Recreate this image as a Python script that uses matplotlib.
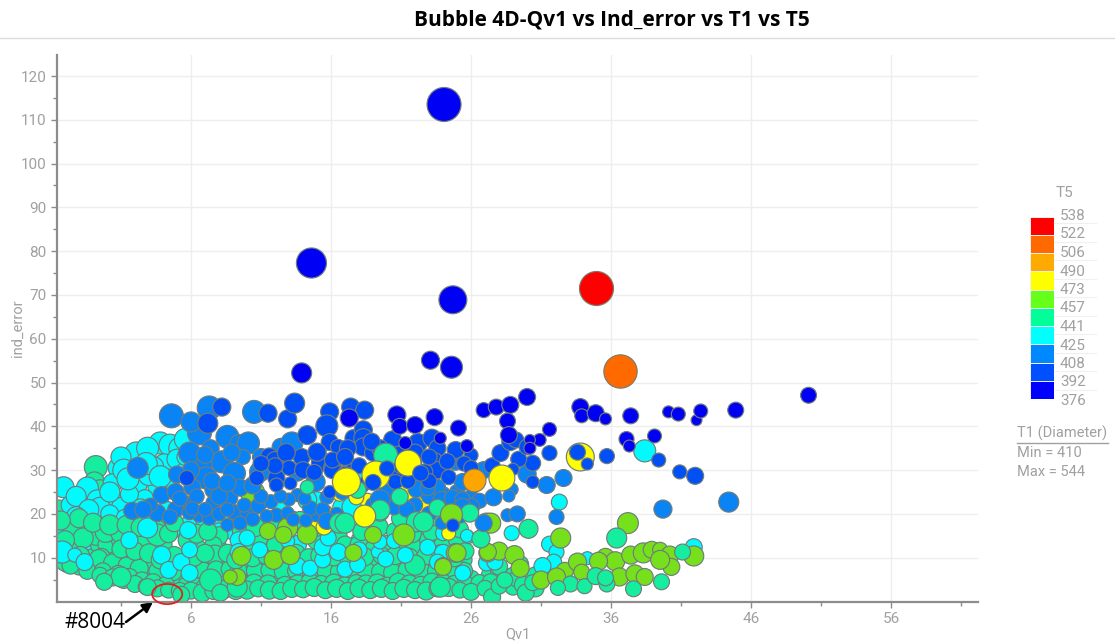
import numpy as np
import matplotlib
matplotlib.use('Agg')
import matplotlib.pyplot as plt
from matplotlib.colors import ListedColormap, BoundaryNorm
from matplotlib.patches import Ellipse

# T5 scale
t5_edges = [376, 392, 408, 425, 441, 457, 473, 490, 506, 522, 538]
t5_colors = ['#0000ff', '#0050ff', '#0088ff', '#00ffff', '#00ff99',
             '#66ff1a', '#ffff00', '#ffaa00', '#ff6a00', '#ff0000']
# the bubbles come out a little duller than the legend in the reference
bubble_colors = ['#0000f5', '#0050f5', '#0a84f5', '#00fbff', '#14ee9e',
                 '#76e01c', '#ffff00', '#ffa500', '#ff6a00', '#ff0000']
t1_min = 410
t1_max = 544

# (Qv1, ind_error, T1), one list per T5 band
teal_back = [(-0.8, 30.7, 482), (-0.9, 27.3, 466), (-0.5, 25.5, 466), (-3.4, 21, 460), (2.0, 19, 455), (0.8, 18, 455)]
cyan_back = [
    (3.8, 36.2, 477), (2.1, 33.7, 488), (2.9, 35, 477), (4.5, 35.7, 477), (5.2, 35, 477), (4.1, 31.2, 477),
    (3.3, 30.7, 471), (0.8, 30.5, 466), (2.1, 27, 477), (-3.1, 26.1, 471), (0.4, 27, 460), (4.4, 27.7, 477),
    (3.6, 26.2, 460), (-1.4, 25.9, 477), (-0.7, 23.2, 466), (-2.6, 22, 460), (0.4, 22.7, 471), (1.0, 21.6, 460),
    (2.7, 23.6, 449), (-1.7, 18.6, 460), (-3.2, 17, 477), (4.3, 20.9, 449), (1.6, 24.5, 455), (2.9, 19, 460),
    (-2.2, 24, 466), (-0.2, 19.5, 460), (5.8, 17.5, 449), (6.8, 16.5, 443), (9.0, 16, 449), (10.5, 14.5, 449),
    (8.2, 18, 449), (13.6, 13, 455), (15.0, 23, 455), (16.8, 21.5, 460), (17.5, 21.6, 466), (17.9, 30, 455),
    (14.3, 23.2, 460), (12.5, 21, 449), (5.6, 37, 477), (1.0, 33, 466), (1.2, 30, 477), (3.0, 29, 477),
    (2.8, 31.5, 477), (5.0, 32.5, 466), (5.6, 30, 449), (-0.5, 21.5, 466), (1.5, 28, 477), (0.2, 25, 466),
    (-1.3, 21, 466), (0.2, 20, 455), (1.3, 19, 455), (2.2, 18.5, 449), (3.8, 19, 449), (4.8, 16.5, 449),
    (-3.2, 14, 477), (-2.3, 14, 449), (-1.0, 12, 449), (-2.8, 8.5, 449), (2.4, 21.5, 449), (3.8, 28.5, 477),
    (-2.2, 19.5, 460), (8.0, 16, 449), (7.0, 18, 449), (11.3, 17.5, 449), (13.2, 19, 438), (9.5, 18.7, 438),
    (10.6, 15, 438), (16.0, 16, 443), (18.0, 14, 443), (20.0, 12, 443), (21.0, 18, 443), (5.6, 33, 449),
]
teal_low = [
    (-3.0, 9, 455), (-2.0, 8, 449), (-1.0, 8.5, 455), (0.0, 7.5, 449), (1.0, 7, 455), (2.0, 6.5, 449),
    (3.0, 6, 455), (4.0, 5, 449), (5.0, 5.5, 455), (6.5, 4.5, 460), (7.2, 5.5, 455), (8.0, 5.5, 460),
    (9.5, 5, 455), (10.2, 5.5, 449), (11.0, 5.8, 455), (12.0, 6, 449), (13.0, 5, 455), (14.0, 5.5, 460),
    (15.0, 5, 449), (16.0, 5.5, 455), (17.0, 4.8, 449), (18.0, 5.5, 455), (19.0, 5.5, 449), (20.0, 5, 455),
    (21.0, 6, 460), (22.0, 5, 449), (23.0, 6, 455), (24.0, 5.5, 449), (25.0, 5, 455), (26.0, 5.2, 449),
    (27.3, 6, 443), (28.0, 6.5, 449), (29.0, 6, 443), (-2.5, 12, 460), (-1.0, 10, 455), (-0.5, 13, 460),
    (0.5, 11, 455), (1.5, 10, 460), (2.5, 9, 455), (3.2, 8, 449), (5.0, 8, 455), (6.0, 8.5, 460),
    (7.0, 9, 455), (8.0, 9, 460), (10.0, 8, 455), (11.0, 8, 449), (12.5, 8.5, 455), (14.0, 8, 460),
    (16.0, 9, 455), (18.0, 9, 460), (19.0, 9, 449), (20.5, 8.5, 455), (22.0, 9, 460), (23.0, 9, 455),
    (24.5, 8.5, 449), (25.5, 9.5, 443), (-1.5, 16.5, 466), (-0.8, 15, 460), (0.0, 13, 455), (1.0, 14, 460),
    (1.8, 15, 455), (2.5, 14, 460), (3.5, 16.5, 466), (4.0, 13, 455), (5.8, 14.5, 460), (6.5, 12, 455),
    (7.8, 13, 460), (8.0, 15, 455), (9.8, 12.5, 460), (11.0, 14, 455), (12.0, 12.5, 460), (13.5, 11, 455),
    (15.0, 14, 460), (16.5, 15, 455), (17.0, 13, 449), (18.0, 13, 455), (19.0, 12, 449), (20.0, 13, 455),
    (21.0, 12.5, 449), (22.0, 13, 455), (23.0, 14, 460), (24.0, 13, 455), (25.0, 14, 449),
    (-2.4, 16.8, 477), (-1.7, 14.5, 466), (-0.1, 15.9, 471), (-0.4, 10.2, 449),
    (1.0, 15.6, 466), (2.2, 10.6, 466), (3.6, 15.2, 477), (5.8, 14, 466), (7.6, 12.9, 449), (7.7, 10.6, 466),
]
teal_fill = [
    (-3.3, 11, 460), (-1.9, 10.5, 455), (-0.6, 9.8, 455), (0.4, 8.8, 455), (1.4, 8.2, 449), (2.3, 7.6, 455),
    (3.6, 7, 449), (4.7, 6.8, 455), (6.0, 6.5, 455), (6.9, 7, 449), (7.8, 7.2, 455), (8.8, 7.4, 455),
    (9.4, 7, 449), (10.6, 7, 455), (11.6, 7.2, 449), (12.6, 6.8, 455), (13.5, 7, 449), (14.6, 6.6, 455),
    (15.6, 7, 449), (16.6, 6.8, 455), (17.6, 6.8, 449), (18.5, 7, 455), (19.5, 6.8, 449), (20.4, 6.6, 455),
    (21.4, 7.2, 449), (22.5, 6.8, 455), (23.5, 7, 449), (24.5, 6.8, 455), (25.5, 7, 449),
    (1.0, 12, 455), (2.0, 11.5, 455), (3.0, 11, 460), (3.8, 9.5, 455), (4.8, 10.5, 455), (6.2, 10.2, 460),
    (7.0, 11, 455), (8.6, 11, 455), (9.2, 9.5, 455), (10.4, 10, 455), (11.4, 10.5, 455), (12.6, 11, 449),
    (14.4, 10, 455), (15.2, 10.5, 455), (16.2, 10.2, 455), (17.2, 10, 449), (18.4, 10.2, 455), (19.6, 10.5, 449),
    (20.6, 10.5, 455), (21.6, 10.2, 449), (22.8, 10.5, 455), (23.8, 11, 449), (24.8, 10, 455), (25.6, 11.5, 449),
    (-3.0, 14, 460), (-2.0, 19, 460), (-1.0, 18, 460), (0.2, 17.5, 466), (1.4, 17.5, 460), (2.4, 17, 460),
    (4.4, 15.5, 455), (4.8, 18, 455), (6.4, 15.5, 460), (7.2, 16, 455), (9.6, 16, 455), (10.6, 17, 460),
    (12.0, 18, 455), (13.8, 18.5, 455), (15.0, 17, 455), (16.4, 19, 455), (18.2, 16, 455), (19.4, 17, 460),
    (20.6, 16, 455), (21.8, 15.5, 455), (23.2, 16, 455), (24.2, 17, 455), (25.2, 16.5, 449), (21.0, 19, 460),
    (23.4, 19.5, 460), (-3.3, 18.5, 460), (28.0, 8, 449), (29.5, 8.5, 449), (30.6, 6, 449),
]
teal_bottom = [
    (-2.6, 8.2, 449), (-1.4, 7, 449), (-0.3, 6.9, 449), (0.8, 6.3, 449), (1.6, 5.6, 449), (2.5, 4.8, 449),
    (3.3, 4.4, 449), (4.2, 3.8, 449), (5.7, 3.6, 455), (6.3, 3.4, 455), (7.0, 3.2, 455), (8.9, 4, 455),
    (9.8, 3.8, 449), (10.5, 4.2, 455), (11.5, 4, 455), (12.7, 3.8, 449), (13.6, 4, 455), (14.5, 4.4, 455),
    (15.3, 4, 449), (16.2, 4.2, 455), (17.0, 3.6, 455), (17.8, 4.2, 449), (18.5, 4, 455), (19.3, 4.2, 455),
    (20.0, 3.6, 449), (20.8, 4.4, 455), (21.6, 4, 455), (22.4, 3.8, 449), (23.2, 4.4, 455), (24.0, 4.2, 455),
    (24.8, 4, 449), (25.6, 3.8, 455), (26.6, 4.2, 449), (27.4, 4.4, 449), (29.0, 3.4, 449), (30.6, 3, 449),
    (29.3, 5.2, 449),
    (-0.5, 6, 443), (0.4, 5.5, 449), (1.2, 4.8, 443), (2.0, 4, 449), (2.8, 3.4, 443), (3.6, 3, 449),
    (4.4, 2.6, 443), (5.2, 2.4, 449), (6.0, 2.5, 449), (6.8, 2, 455), (7.6, 2.4, 449), (8.4, 2.8, 455),
    (9.2, 2.4, 449), (10.0, 2.6, 455), (10.8, 3, 449), (11.6, 2.6, 455), (12.4, 2.4, 449), (13.2, 3, 455),
    (14.0, 2.8, 449), (14.8, 3.2, 455), (15.6, 2.6, 449), (16.4, 3, 455), (17.2, 2.4, 449), (18.0, 3, 455),
    (18.8, 2.6, 449), (19.6, 3, 455), (20.4, 2.4, 449), (21.2, 3, 455), (22.0, 2.6, 449), (22.8, 2.4, 455),
    (23.6, 3, 449), (24.4, 3.2, 455), (25.2, 2.6, 443), (26.0, 2.2, 449), (27.0, 3, 443), (27.5, 1, 449),
    (28.0, 3.5, 443), (28.4, 4.9, 443), (29.7, 3.8, 449), (29.9, 2, 449), (30.4, 4.3, 443),
    (1.0, 5.6, 466), (-0.2, 4.5, 449), (2.9, 3.3, 449), (7.4, 4.9, 477), (8.1, 2, 449), (9.3, 3.3, 466),
    (5.3, 1.5, 449), (23.8, 3.3, 466), (22.0, 8.3, 466), (12.0, 12.9, 449),
]
cyan_front = [
    (2.9, 16.8, 466), (1.6, 14, 449), (-3.2, 11.3, 477), (-2.3, 10.6, 432), (-1.6, 9, 449), (3.9, 10.6, 455),
    (4.4, 7.2, 449), (5.3, 9, 449), (5.9, 6.5, 449), (5.9, 11.8, 443), (5.8, 16.3, 449), (9.4, 14, 449),
    (9.4, 11.3, 449), (10.9, 11.8, 443), (12.9, 13.8, 432), (13.6, 8.1, 449), (14.5, 7.6, 443), (15.4, 9.5, 443),
    (15.4, 12.4, 449), (16.5, 11.3, 449), (17.0, 7.4, 443), (17.9, 8.4, 443), (18.0, 11.8, 443), (19.3, 11.3, 421),
    (19.9, 9.7, 443), (21.3, 10.6, 443), (19.5, 13.6, 432), (22.9, 12.4, 443), (24.0, 11.1, 449), (23.6, 9, 443),
    (24.0, 15.6, 438), (20.5, 13.8, 438), (15.8, 14.5, 443), (10.0, 14.5, 443), (25.8, 14.7, 426), (25.4, 6.5, 443),
    (27.1, 8.8, 443), (27.7, 9, 443), (31.6, 13.1, 443), (32.1, 11.3, 438), (31.9, 9, 443), (31.1, 8.1, 449),
    (34.3, 9.9, 426), (41.9, 12.4, 449), (28.9, 15.6, 438), (25.7, 15, 426), (32.3, 22.7, 443), (38.4, 34.4, 477),
]
yellow_low = [(14.6, 16.8, 449), (15.5, 17, 443), (21.4, 25, 449), (24.4, 15.6, 432), (18.6, 23, 438), (19.6, 24, 432),
              (22.5, 22, 438), (16.6, 24.5, 432), (17.8, 23.8, 438)]
green_all = [
    (37.2, 17.9, 471), (32.4, 14.5, 466), (27.1, 17.9, 466), (24.6, 19.5, 466), (21.2, 15.2, 466), (19.0, 15.2, 449),
    (24.9, 11.1, 460), (24.0, 8.1, 449), (27.2, 11.1, 455), (28.0, 11.5, 455), (29.1, 10.6, 460), (29.5, 7.6, 455),
    (32.7, 7, 449), (33.6, 9, 455), (35.6, 10.2, 449), (36.3, 9.2, 460), (37.4, 10.6, 455), (38.3, 11.1, 466),
    (38.9, 11.8, 449), (39.5, 11.8, 438), (40.2, 10.6, 455), (40.3, 7.9, 449), (33.9, 6.7, 443), (35.1, 9.2, 455),
    (39.5, 9.5, 460), (31.0, 4.9, 455), (32.1, 5.6, 455), (36.6, 5.6, 455), (37.7, 6.3, 455), (38.4, 5.6, 449),
    (41.9, 10.4, 466), (9.6, 10.4, 460), (11.9, 9.5, 460), (11.5, 16.1, 449), (13.1, 10.6, 460), (12.9, 16.8, 466),
    (14.3, 15.4, 466), (12.6, 15.2, 449), (9.3, 5.6, 449), (8.8, 5.6, 432), (15.6, 20.4, 432), (17.6, 11.1, 449),
    (10.4, 24.8, 488), (24.0, 7.9, 449), (25.0, 11.1, 455), (27.4, 17.9, 466), (27.2, 11.3, 449),
]
teal_mid = [
    (36.4, 14.5, 466), (39.6, 4.5, 443), (37.6, 2.9, 443), (41.1, 11.3, 443), (33.1, 4, 443), (32.2, 3.1, 438),
    (34.1, 3.5, 438), (34.9, 5.8, 449), (35.7, 4, 443), (35.6, 5.4, 443), (30.1, 16.6, 460), (26.7, 14.3, 455),
]
blue_408 = [
    (2.2, 30.5, 471), (4.6, 42.4, 488), (7.3, 44.2, 488), (6.6, 38.5, 488), (6.0, 41, 466), (8.6, 37.6, 482),
    (9.4, 36.2, 449), (10.1, 36.2, 477), (10.5, 43.3, 482), (5.9, 33.9, 477), (7.4, 35, 449), (8.2, 31.9, 477),
    (9.1, 29.3, 477), (6.9, 31.2, 449), (7.1, 28.2, 477), (6.1, 26.1, 449), (7.6, 25.5, 449), (5.4, 22.5, 449),
    (3.9, 24.3, 449), (4.9, 25, 449), (1.8, 20.7, 449), (3.6, 20.2, 449), (3.1, 22, 432), (6.6, 19.7, 432),
    (7.6, 22.5, 438), (8.8, 23.6, 438), (9.1, 20.4, 438), (10.0, 20.2, 432), (8.6, 17.5, 426), (9.5, 17.9, 432),
    (12.1, 19.7, 432), (12.9, 20.2, 426), (14.9, 19.7, 426), (15.8, 18.6, 426), (10.9, 29.6, 466), (12.4, 35.3, 449),
    (13.2, 36.2, 477), (13.6, 29.3, 443), (14.9, 27.3, 449), (13.6, 24.3, 426), (4.9, 21, 443), (5.9, 20.4, 438),
    (7.3, 19, 432), (10.8, 21.8, 438), (11.7, 22.8, 432), (13.0, 23.3, 426), (14.5, 21.3, 438), (15.7, 23.8, 432),
    (2.6, 21, 449), (4.5, 19.3, 438), (5.2, 23.5, 438), (6.4, 24, 438), (6.1, 21.2, 432), (7.0, 21, 432),
    (8.0, 20, 432), (8.6, 21, 432), (9.8, 22, 432), (10.4, 18.8, 432), (11.4, 19.5, 426), (11.0, 24, 432),
    (12.4, 24, 426), (13.3, 18.7, 426), (14.2, 18.5, 426), (14.1, 23.5, 426), (15.4, 21, 432), (16.4, 20, 426),
    (8.0, 24, 449), (9.5, 26, 449), (10.4, 26.5, 449), (7.5, 27.5, 449), (8.6, 27, 449), (6.0, 30, 449),
    (5.0, 29, 449), (9.7, 33, 438), (8.9, 34, 449), (7.0, 33.5, 449), (11.0, 33, 449), (16.8, 25, 438),
    (22.0, 22, 438), (22.5, 27, 438), (23.0, 24, 438), (24.0, 24.5, 438), (25.0, 25, 438), (26.0, 24, 432),
    (25.2, 19.5, 432), (23.0, 20, 438), (20.5, 21.5, 438), (19.0, 22, 438), (26.6, 23, 438),
    (28.9, 25.6, 426), (31.4, 26.6, 449), (32.6, 28.2, 449), (30.0, 29.1, 455), (27.6, 23.8, 449), (28.7, 24.1, 421),
    (28.6, 19.7, 426), (29.3, 20, 443), (32.1, 19.3, 438), (39.7, 21.1, 455), (44.4, 22.7, 466), (26.9, 30, 449),
    (26.9, 17.9, 449), (24.9, 31.8, 443), (22.1, 25.7, 449), (23.6, 26.1, 443), (22.9, 25.9, 438), (20.0, 24.8, 449),
    (19.5, 23.2, 466), (21.4, 21.1, 443), (23.9, 23.2, 449), (24.7, 23.6, 449), (25.4, 23.2, 443), (26.0, 21.6, 449),
    (25.4, 21.6, 449), (15.7, 18.4, 449), (23.9, 17.9, 426), (25.4, 27.3, 449), (14.9, 27.3, 460),
]
blue_392 = [
    (8.2, 44.4, 455), (11.5, 43, 455), (7.2, 40.7, 466), (12.9, 41.7, 455), (13.4, 45.3, 466), (15.9, 43.3, 455),
    (17.4, 44.4, 455), (15.7, 40.1, 477), (14.3, 38, 460), (15.9, 36.4, 449), (16.5, 35.3, 438), (17.6, 37.3, 449),
    (11.6, 33, 455), (12.0, 32.3, 449), (13.9, 33, 449), (15.0, 33.9, 455), (15.2, 31.6, 449), (16.1, 30.5, 455),
    (10.7, 28.2, 438), (12.1, 28.2, 449), (12.1, 26.6, 432), (13.1, 27, 426), (15.9, 25, 426), (5.7, 28.2, 438),
    (18.4, 43.7, 455), (18.3, 39.2, 455), (18.3, 37.3, 460), (18.3, 35.3, 455), (20.4, 36.9, 455), (22.2, 36.2, 460),
    (23.2, 37.3, 455), (23.6, 35, 449), (24.9, 34.6, 449), (23.4, 32.3, 438), (23.6, 30, 449), (22.7, 29.6, 443),
    (20.6, 29.3, 438), (19.5, 30.7, 438), (19.1, 28.4, 443), (20.6, 27.3, 438), (24.4, 28.4, 438), (16.1, 30, 449),
    (15.0, 34.1, 455), (16.1, 32.3, 443), (17.4, 30.7, 443), (21.9, 32, 443), (26.0, 33.4, 432),
    (17.2, 35, 449), (19.0, 34, 449), (19.5, 35, 449), (20.8, 33.5, 449), (22.0, 34, 449), (23.0, 33, 443),
    (24.3, 32, 443), (25.5, 31.5, 438), (21.0, 31, 443), (18.0, 31, 443), (17.0, 33, 449), (18.9, 36.5, 449),
    (12.8, 34, 455), (13.0, 30.5, 438), (14.0, 30, 449), (14.8, 29.5, 443), (17.0, 29, 443), (18.2, 26.5, 438),
    (21.5, 27.5, 438), (23.0, 27.5, 438), (26.0, 30.5, 438), (27.5, 31, 443), (12.0, 31, 443), (11.0, 31.5, 443),
    (39.4, 32.3, 432), (40.9, 29.6, 432), (42.0, 28.7, 449), (35.7, 33.2, 438),
    (31.6, 33.9, 438), (30.4, 31.6, 443), (29.4, 32.5, 443), (28.1, 33.9, 449), (28.8, 36.4, 449), (29.2, 36.9, 443),
    (30.0, 35.3, 443), (30.4, 27.3, 426), (29.0, 30.2, 421),
]
blue_376 = [
    (17.3, 41.9, 455), (20.7, 42.6, 455), (20.9, 40, 443), (22.0, 40.3, 449), (23.4, 42.1, 449), (25.1, 39.6, 443),
    (23.8, 37.3, 421), (21.3, 36.2, 426), (25.7, 35.5, 426), (26.9, 43.7, 438), (27.8, 44.4, 443), (28.8, 44.9, 449),
    (30.0, 46.7, 449), (28.6, 41.2, 443), (28.7, 38, 449), (31.6, 39.3, 432), (33.8, 44.4, 449), (33.9, 42.4, 432),
    (34.9, 43, 449), (35.6, 41.7, 421), (37.4, 42.4, 443), (40.1, 43.3, 421), (40.8, 42.8, 432), (42.1, 41.4, 415),
    (42.4, 43.5, 432), (44.9, 43.7, 443), (39.1, 37.8, 432), (37.1, 37.1, 438), (37.3, 35.5, 421), (30.9, 36.9, 426),
    (30.2, 36.9, 415), (30.2, 35, 421), (24.6, 53.5, 477), (23.1, 55.1, 455), (13.9, 52.2, 466), (50.1, 47.1, 443),
    (24.07, 113.5, 544), (14.6, 77.3, 522), (24.7, 68.9, 510), (36.3, 51, 443),
]
teal_top = [
    (16.6, 17.9, 466), (22.1, 18.2, 466), (19.5, 20.4, 455), (19.9, 33.4, 488), (17.9, 25.5, 449), (19.5, 20.9, 466),
    (17.0, 17.9, 466), (22.6, 18.2, 466), (20.9, 23.9, 449), (23.6, 21.4, 449), (25.9, 20.2, 455), (14.3, 26.1, 432),
]
yellow_top = [(17.1, 27.3, 510), (18.4, 19.5, 477), (19.2, 28.9, 510), (21.5, 31.6, 499), (28.2, 28.2, 499), (33.8, 33, 510)]
green_top = [(21.2, 15.2, 477), (24.6, 19.8, 477)]
blue_top = [(19.0, 27.2, 443), (20.0, 30.4, 438), (22.4, 29.3, 443), (34.3, 31.4, 421), (33.6, 34.1, 443), (24.7, 17.4, 426)]
hot = [(26.2, 27.7, 482, 498), (36.6, 52.6, 540, 514), (34.9, 71.6, 544, 530)]

layers = [
    (teal_back, 449), (cyan_back, 433), (teal_low, 449), (teal_fill, 449), (teal_bottom, 449), (cyan_front, 433),
    (yellow_low, 481), (green_all, 465), (teal_mid, 449), (blue_408, 416), (blue_392, 400), (blue_376, 384),
    (teal_top, 449), (yellow_top, 481), (green_top, 465), (blue_top, 400),
]

legend_cmap = ListedColormap(t5_colors)
cmap = ListedColormap(bubble_colors)
norm = BoundaryNorm(t5_edges, cmap.N)


def bubble_area(t1):
    # 10 px bubble at the T1 minimum, 34 px at the maximum (100 dpi)
    d_px = 10 + (np.asarray(t1) - t1_min) / (t1_max - t1_min) * 24
    return (d_px * 0.72) ** 2


fig = plt.figure(figsize=(11.15, 6.42), dpi=100)
plt.rcParams['font.family'] = ['Roboto', 'DejaVu Sans']
W, H = 1115, 642
ax = fig.add_axes([57 / W, 1 - 601.5 / H, (978 - 57) / W, (601.5 - 55) / H])

for rows, t5 in layers:
    q, e, t1 = np.array(rows, dtype=float).T
    ax.scatter(q, e, s=bubble_area(t1), c=np.full(q.shape, t5), cmap=cmap, norm=norm,
               edgecolors='#707c7a', linewidths=0.85, zorder=3)
for q, e, t1, t5 in hot:
    ax.scatter([q], [e], s=bubble_area(t1), c=[t5], cmap=cmap, norm=norm,
               edgecolors='#7a7a6a', linewidths=0.85, zorder=4)

ax.set_xlim(-3.57, 62.2)
ax.set_ylim(0, 124.8)
ax.set_xticks([6, 16, 26, 36, 46, 56])
ax.set_xticks([1, 11, 21, 31, 41, 51, 61], minor=True)
ax.set_yticks(np.arange(10, 121, 10))
ax.set_yticks(np.arange(5, 125, 10), minor=True)
ax.grid(True, color='#eeeeee', linewidth=1, zorder=0)
ax.set_axisbelow(True)
for s in ['top', 'right']:
    ax.spines[s].set_visible(False)
for s in ['left', 'bottom']:
    ax.spines[s].set_color('#8c8c8c')
    ax.spines[s].set_linewidth(1.6)
    ax.spines[s].set_zorder(5)
ax.tick_params(axis='both', which='major', labelsize=11, labelcolor='#a0a0a0', color='#8c8c8c',
               length=4, width=1)
ax.tick_params(axis='both', which='minor', color='#8c8c8c', length=3, width=1)
ax.set_xlabel('Qv1', fontsize=10.5, color='#a0a0a0', labelpad=1)
ax.set_ylabel('ind_error', fontsize=10.5, color='#a0a0a0', labelpad=-3)

fig.text(611.5 / W, 1 - 20 / H, 'Bubble 4D-Qv1 vs Ind_error vs T1 vs T5', ha='center', va='center',
         fontsize=15, fontweight='bold', family='Open Sans', color='black')
fig.add_artist(plt.Line2D([0, 1], [1 - 37.5 / H] * 2, color='#dddddd', linewidth=1))

# marked bubble
ax.add_patch(Ellipse((4.3, 1.7), 2.15, 4.6, fill=False, edgecolor='#e02020', linewidth=1.3,
                     clip_on=False, zorder=6))
ax.annotate('', xy=(153 / W, 1 - 602 / H), xytext=(126 / W, 1 - 622 / H), xycoords='figure fraction',
            textcoords='figure fraction', annotation_clip=False,
            arrowprops=dict(arrowstyle='-|>', color='black', lw=1.8, mutation_scale=15, shrinkA=0, shrinkB=0))
fig.text(95 / W, 1 - 623 / H, '#8004', ha='center', va='center', fontsize=15, family='Open Sans',
         color='black')

# T5 legend
leg = fig.add_axes([1030 / W, 1 - 399 / H, 24 / W, (399 - 217) / H])
leg.pcolormesh([0, 1], t5_edges, np.array(t5_edges[:-1], dtype=float).reshape(-1, 1) + 1,
               cmap=legend_cmap, norm=norm, edgecolors='#eeeeee', linewidth=0.6)
leg.set_xlim(0, 1)
leg.set_ylim(t5_edges[0], t5_edges[-1])
leg.set_xticks([])
leg.set_yticks([])
for s in leg.spines.values():
    s.set_visible(False)
for i, val in enumerate(t5_edges):
    y_px = 401 - i * 18.5
    if i > 0:
        fig.add_artist(plt.Line2D([1054 / W, 1096 / W], [1 - (y_px + 7) / H] * 2,
                                  color='#f0f0f0', linewidth=0.8))
    fig.text(1060 / W, 1 - y_px / H, str(val), ha='left', va='center', fontsize=11, color='#a0a0a0')
fig.text(1064 / W, 1 - 193 / H, 'T5', ha='center', va='center', fontsize=11, color='#a0a0a0')
fig.text(1017 / W, 1 - 433 / H, 'T1 (Diameter)', ha='left', va='center', fontsize=10.5, color='#a0a0a0')
fig.add_artist(plt.Line2D([1017 / W, 1108 / W], [1 - 442.5 / H] * 2, color='#a0a0a0', linewidth=1))
fig.text(1017 / W, 1 - 453 / H, 'Min = 410', ha='left', va='center', fontsize=10.5, color='#a0a0a0')
fig.text(1017 / W, 1 - 472 / H, 'Max = 544', ha='left', va='center', fontsize=10.5, color='#a0a0a0')

fig.savefig('out.png', dpi=100)
